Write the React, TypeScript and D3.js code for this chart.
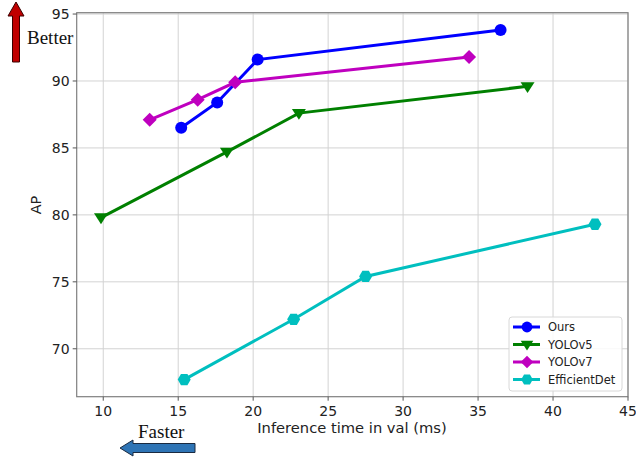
import React from "react";
import * as d3 from "d3";

const xTicks = [10, 15, 20, 25, 30, 35, 40, 45];
const yTicks = [70, 75, 80, 85, 90, 95];

const oursX = [15.2, 17.6, 20.3, 36.5];
const oursY = [86.5, 88.4, 91.6, 93.8];
const yolov5X = [9.85, 18.25, 23.05, 38.3];
const yolov5Y = [79.8, 84.7, 87.6, 89.6];
const yolov7X = [13.1, 16.3, 18.8, 34.4];
const yolov7Y = [87.1, 88.6, 89.9, 91.8];
const effX = [15.4, 22.7, 27.5, 42.8];
const effY = [67.7, 72.2, 75.4, 79.3];

const seriesNames = ["Ours", "YOLOv5", "YOLOv7", "EfficientDet"];
const seriesColors = ["#0000ff", "#008000", "#bf00bf", "#00bfbf"];
const seriesMarkers = ["circle", "tridown", "diamond", "hexagon"];

const W = 636, H = 459;
const L = 76.7, R = 628, T = 12.7, B = 396.7;

function Marker({ kind, x, y, color, s = 1 }: { kind: string; x: number; y: number; color: string; s?: number }) {
  if (kind === "circle") return <circle cx={x} cy={y} r={6 * s} fill={color} />;
  if (kind === "tridown") {
    const r = 7 * s;
    return <path d={`M${x - r},${y - r * 0.6}L${x + r},${y - r * 0.6}L${x},${y + r * 0.95}Z`} fill={color} />;
  }
  if (kind === "diamond") {
    const r = 7 * s;
    return <path d={`M${x},${y - r}L${x + r},${y}L${x},${y + r}L${x - r},${y}Z`} fill={color} />;
  }
  const pts = d3.range(6).map((i) => {
    const a = (Math.PI / 3) * i;
    return [x + 6.5 * s * Math.cos(a), y + 6.5 * s * Math.sin(a)];
  });
  return <path d={"M" + pts.map((p) => p.join(",")).join("L") + "Z"} fill={color} />;
}

export default function App() {
  const x = d3.scaleLinear().domain([8.23, 45]).range([L, R]);
  const y = d3.scaleLinear().domain([66.42, 95.1]).range([B, T]);
  const data = [
    [oursX, oursY],
    [yolov5X, yolov5Y],
    [yolov7X, yolov7Y],
    [effX, effY],
  ];
  const line = d3
    .line<[number, number]>()
    .x((d) => x(d[0]))
    .y((d) => y(d[1]));
  const font = "DejaVu Sans, sans-serif";
  const serif = "Liberation Serif, Times New Roman, serif";
  return (
    <svg width={W} height={H} style={{ position: "absolute", left: 0, top: 0, background: "#fff" }}>
      <rect width={W} height={H} fill="#fff" />
      {xTicks.map((t) => (
        <line key={"gx" + t} x1={x(t)} x2={x(t)} y1={T} y2={B} stroke="#d3d3d3" strokeWidth={1} />
      ))}
      {yTicks.map((t) => (
        <line key={"gy" + t} x1={L} x2={R} y1={y(t)} y2={y(t)} stroke="#d3d3d3" strokeWidth={1} />
      ))}
      {data.map(([xs, ys], i) => {
        const pts = xs.map((v, j) => [v, ys[j]] as [number, number]);
        return (
          <g key={i}>
            <path d={line(pts) || ""} fill="none" stroke={seriesColors[i]} strokeWidth={3} />
            {pts.map((p, j) => (
              <Marker key={j} kind={seriesMarkers[i]} x={x(p[0])} y={y(p[1])} color={seriesColors[i]} />
            ))}
          </g>
        );
      })}
      <rect x={L} y={T} width={R - L} height={B - T} fill="none" stroke="#7f7f7f" strokeWidth={1.2} />
      {xTicks.map((t) => (
        <g key={"tx" + t}>
          <line x1={x(t)} x2={x(t)} y1={B} y2={B + 4} stroke="#555" />
          <text x={x(t)} y={B + 19} textAnchor="middle" fontFamily={font} fontSize={14} fill="#222">
            {t}
          </text>
        </g>
      ))}
      {yTicks.map((t) => (
        <g key={"ty" + t}>
          <line x1={L - 4} x2={L} y1={y(t)} y2={y(t)} stroke="#555" />
          <text x={L - 7} y={y(t) + 5} textAnchor="end" fontFamily={font} fontSize={14} fill="#222">
            {t}
          </text>
        </g>
      ))}
      <text x={352} y={433} textAnchor="middle" fontFamily={font} fontSize={14.7} fill="#222">
        Inference time in val (ms)
      </text>
      <text transform={`translate(41,205) rotate(-90)`} textAnchor="middle" fontFamily={font} fontSize={14.5} fill="#222">
        AP
      </text>
      {/* Legend */}
      <rect x={509} y={317} width={113} height={74} rx={3} fill="#fff" fillOpacity={0.85} stroke="#d8d8d8" />
      {seriesNames.map((n, i) => (
        <g key={n}>
          <line x1={513} x2={540} y1={327 + i * 17.5} y2={327 + i * 17.5} stroke={seriesColors[i]} strokeWidth={3} />
          <Marker kind={seriesMarkers[i]} x={527} y={327 + i * 17.5} color={seriesColors[i]} s={0.9} />
          <text x={548} y={331 + i * 17.5} fontFamily={font} fontSize={11.5} fill="#222">
            {n}
          </text>
        </g>
      ))}
      {/* Better arrow */}
      <path d="M12.5,62L19.5,62L19.5,16L24,16L16,2L8,16L12.5,16Z" fill="#c00000" stroke="#3a0000" strokeWidth={1} />
      <text x={27} y={44} fontFamily={serif} fontSize={19} fill="#111">
        Better
      </text>
      {/* Faster arrow */}
      <path d="M195,443.5L195,452.5L133,452.5L133,456L120,448L133,440L133,443.5Z" fill="#2e74b5" stroke="#1a2a40" strokeWidth={1} />
      <text x={138} y={438} fontFamily={serif} fontSize={19} fill="#111">
        Faster
      </text>
    </svg>
  );
}
